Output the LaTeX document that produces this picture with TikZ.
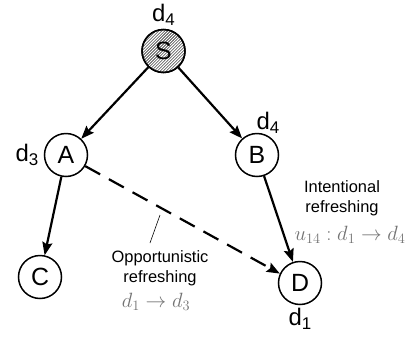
\documentclass[tikz,border=0pt]{standalone}
\usepackage{fontspec}
\setmainfont{Liberation Sans}
\usetikzlibrary{arrows.meta,patterns}
\newcommand{\dsub}[1]{d\raisebox{-4.5bp}{\fontsize{17}{17}\selectfont #1}}
\begin{document}
\begin{tikzpicture}[x=1bp,y=-1bp,
  vert/.style={draw,circle,line width=1.5bp,minimum size=43bp,inner sep=0pt,font=\fontsize{25}{25}\selectfont},
  lab/.style={font=\fontsize{24}{24}\selectfont,inner sep=0pt},
  captext/.style={font=\fontsize{16.5}{20}\selectfont,align=center,inner sep=0pt},
  frm/.style={text=black!55,inner sep=0pt,font=\fontsize{20.5}{20.5}\selectfont},
  arr/.style={line width=2.2bp,-{Stealth[length=13bp,width=10bp,inset=2bp]}},
  opp/.style={line width=2.2bp,dash pattern=on 17bp off 10bp,-{Stealth[length=13bp,width=10bp,inset=2bp]}}]
\useasboundingbox (0,0) rectangle (412,339);
\node[vert,pattern=north east lines] (S) at (163.5,51) {};
\node[vert] (Sl) at (163.5,51) {S};
\node[vert] (A) at (66,155) {A};
\node[vert] (B) at (257,155) {B};
\node[vert] (C) at (40,277) {C};
\node[vert] (D) at (300,283) {D};
\node[lab] (lS) at (163.5,15) {\dsub{4}};
\node[lab] (lA) at (27,155) {\dsub{3}};
\node[lab] (lB) at (268,123) {\dsub{4}};
\node[lab] (lD) at (300,319) {\dsub{1}};
\draw[arr] (S) -- (A);
\draw[arr] (S) -- (B);
\draw[arr] (A) -- (C);
\draw[arr] (B) -- (D);
\draw[opp] (A.-30) -- (D.155);
\node[captext] (ti) at (342,198) {Intentional\\refreshing};
\node[frm] (fi) at (350,235) {$u_{14}:d_1\rightarrow d_4$};
\node[captext] (to) at (160,268) {Opportunistic\\refreshing};
\node[frm] (fo) at (156,302) {$d_1\rightarrow d_3$};
\coordinate (t1) at (160,215);
\coordinate (t2) at (150,243);
\draw[line width=0.6bp] (t1) -- (t2);
\end{tikzpicture}
\end{document}
